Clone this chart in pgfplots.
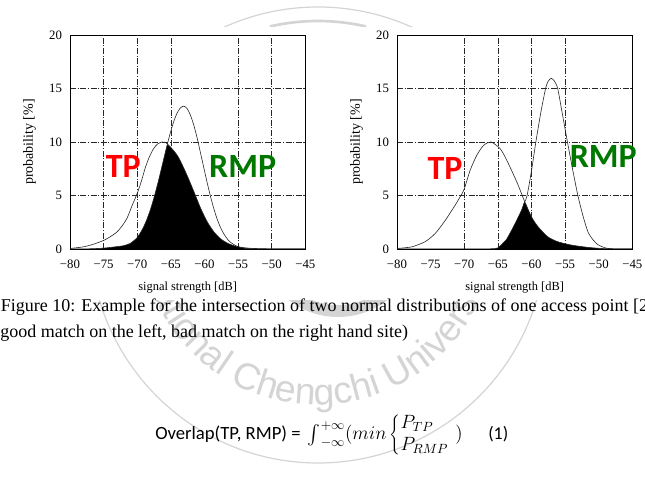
\documentclass[border=0pt]{standalone}
\usepackage{fontspec}
\setmainfont{Liberation Serif}
\newfontfamily\calibri{Carlito}
\newfontfamily\arialfont{Liberation Sans}
\usepackage{graphicx}
\usepackage{pgfplots}
\usepackage{pgfplotstable}
\usetikzlibrary{decorations.text}
\pgfplotsset{compat=1.18}

% ---- left panel: good match ----
\pgfplotstableread{
x y
-80 0.05
-78 0.2
-76.5 0.45
-75 0.8
-74 1.15
-73 1.6
-72.2 2.2
-71.5 2.9
-70.8 4.0
-70 5.2
-69.4 6.3
-68.8 7.6
-68.2 8.6
-67.6 9.35
-67 9.8
-66.35 10.0
-65.85 9.98
-65.4 9.75
-64.8 9.35
-64.1 8.8
-63.6 8.25
-62.6 6.9
-61.6 5.4
-60.6 3.85
-59.6 2.55
-58.6 1.6
-57.6 0.95
-56.6 0.55
-55.6 0.3
-54.6 0.16
-53 0.06
-50 0.01
-45 0
}\tpL
\pgfplotstableread{
x y
-80 0
-77 0.02
-75 0.08
-73.3 0.2
-72.1 0.3
-71.1 0.5
-70.1 1.0
-69.6 1.44
-69.1 2.0
-68.6 2.71
-68.1 3.57
-67.6 4.59
-67.1 5.75
-66.6 7.0
-66.1 8.31
-65.6 9.6
-65.1 10.81
-64.6 11.86
-64.1 12.67
-63.6 13.18
-63.1 13.35
-62.6 13.14
-62.1 12.53
-61.6 11.6
-61.1 10.4
-60.6 9.0
-60.1 7.6
-59.6 6.2
-59.1 4.9
-58.6 3.75
-58.1 2.77
-57.6 1.99
-57.1 1.39
-56.6 0.94
-56.1 0.61
-55.1 0.24
-54.1 0.08
-53.1 0.03
-50 0
-45 0
}\rmpL
\pgfplotstableread{
x y
-80 0
-77 0.02
-75 0.08
-73.3 0.2
-72.1 0.3
-71.1 0.5
-70.1 1.0
-69.6 1.44
-69.1 2.0
-68.6 2.71
-68.1 3.57
-67.6 4.59
-67.1 5.75
-66.6 7.0
-66.1 8.31
-65.6 9.6
-65.45 9.74
-64.8 9.35
-64.1 8.8
-63.6 8.25
-62.6 6.9
-61.6 5.4
-60.6 3.85
-59.6 2.55
-58.6 1.6
-57.6 0.95
-56.6 0.55
-55.6 0.3
-55.1 0.22
-54.1 0.08
-53.1 0.03
-50 0
-45 0
}\ovL

% ---- right panel: bad match ----
\pgfplotstableread{
x y
-80 0.05
-77.8 0.2
-75.8 0.69
-74.3 1.46
-72.8 2.7
-71.35 4.1
-70.5 5.0
-70 5.6
-69.1 7.4
-68.1 8.8
-67.1 9.7
-66 10.0
-64.7 9.4
-64 8.7
-63 7.4
-62 6.0
-61 4.4
-60 3.0
-59.05 2.1
-57.6 1.15
-56.1 0.68
-54.1 0.37
-51.6 0.15
-49 0.03
-45 0
}\tpR
\pgfplotstableread{
x y
-80 0
-68 0
-66 0.02
-65 0.1
-64 0.7
-63.7 0.9
-62.5 2.3
-61.5 3.6
-61 4.4
-60.65 5.0
-60 7.3
-59.35 10.0
-58.6 12.8
-57.9 15.0
-57.5 15.7
-57.05 15.95
-56.6 15.7
-56.1 15.0
-55.4 12.6
-54.65 10.0
-53.9 7.5
-53.1 5.0
-52.3 3.0
-51.6 1.6
-50.9 0.9
-50.1 0.4
-49 0.1
-48 0.02
-45 0
}\rmpR
\pgfplotstableread{
x y
-80 0
-68 0
-66 0.02
-65 0.1
-64 0.7
-63.7 0.9
-62.5 2.3
-61.5 3.6
-61 4.4
-60 3.0
-59.05 2.1
-57.6 1.15
-56.1 0.68
-54.1 0.37
-51.6 0.15
-49 0.03
-45 0
}\ovR

\definecolor{rmpgreen}{RGB}{0,120,0}
\colorlet{seal}{black!17}

\pgfplotsset{
  densplot/.style={
    width=176.5pt, height=160.5pt, scale only axis,
    xmin=-80, xmax=-45, ymin=0, ymax=20,
    xtick={-80,-75,...,-45},
    xticklabels={−80,−75,−70,−65,−60,−55,−50,−45},
    ytick={0,5,10,15,20},
    major tick length=0pt,
    axis line style={line width=0.6pt},
    ymajorgrids,
    grid style={black!85, line width=0.45pt, dash pattern=on 4.5pt off 1.2pt on 0.8pt off 1.2pt},
    extra x tick labels={},
    extra x tick style={grid=major},
    tick label style={font=\fontsize{9.6}{10}\selectfont},
    xticklabel style={yshift=-5pt},
    yticklabel style={xshift=-2.5pt},
    /pgf/number format/assume math mode=true,
    xlabel={signal strength [dB]},
    ylabel={probability [\%]},
    every axis x label/.style={at={(axis description cs:0.5,-0.182)}, anchor=center, font=\fontsize{9.3}{10}\selectfont},
    every axis y label/.style={at={(axis description cs:-0.172,0.5)}, anchor=center, rotate=90, font=\fontsize{10.5}{11}\selectfont},
  },
  curve/.style={black!85, line width=0.45pt, smooth, tension=0.4},
  overlap/.style={fill=black, draw=none, smooth, tension=0.4},
}

\begin{document}
\begin{tikzpicture}[x=0.75pt, y=0.75pt]
\path[use as bounding box] (0,0) rectangle (645,499);
\clip (0,0) rectangle (645,499);

% university seal printed behind the page content
\begin{scope}
  \draw[seal, line width=0.9pt] (318,264) circle[radius=228];
  \draw[seal, line width=2pt] (318,264) ++(77:214) arc[start angle=77, end angle=103, radius=214];
  \draw[seal, line width=9pt] (338,262) circle[radius=74];
  \path[decorate, decoration={text along path, text align=center,
      text color=seal,
      text={|\arialfont\fontsize{28}{28}\selectfont|National Chengchi University}}]
    (318,272) ++(193:178) arc[start angle=193, end angle=347, radius=178];
\end{scope}
% the figure panels sit on white
\fill[white] (14,199) rectangle (645,472);

\begin{axis}[densplot, at={(52.5pt,187.5pt)}, anchor=south west,
  extra x ticks={-75,-70,-65,-55,-50}]
  \addplot[overlap] table {\ovL} \closedcycle;
  \addplot[curve] table {\tpL};
  \addplot[curve] table {\rmpL};
\end{axis}

\begin{axis}[densplot, at={(297.75pt,187.5pt)}, anchor=south west,
  extra x ticks={-70,-65,-60,-55}]
  \addplot[overlap] table {\ovR} \closedcycle;
  \addplot[curve] table {\tpR};
  \addplot[curve] table {\rmpR};
\end{axis}

% curve names
\begin{scope}[every node/.style={anchor=base, inner sep=0pt, font=\calibri\bfseries\fontsize{25.5}{26}\selectfont}]
  \node[text=red] at (123.3,321.3) {TP};
  \node[text=rmpgreen] at (242.7,321.3) {RMP};
  \node[text=red] at (445,319.7) {TP};
  \node[text=rmpgreen] at (603.3,331.3) {RMP};
\end{scope}

% caption
\begin{scope}[every node/.style={anchor=base west, inner sep=0pt, font=\fontsize{13.5}{16}\selectfont}]
  \node at (0.5,187) {Figure 10: Example for the intersection of two normal distributions of one access point [2};
  \node at (-6,161) {(good match on the left, bad match on the right hand site)};
\end{scope}

% overlap formula
\node[anchor=base west, inner sep=0pt, font=\fontsize{14}{16}\selectfont] at (155,59)
  {\calibri Overlap(TP, RMP) = \,$\mathop{\vcenter{\hbox{\scalebox{1.45}{$\int$}}}}\nolimits_{-\infty}^{+\infty}(min\left\{\begin{array}{@{}l@{}}P_{TP}\\P_{RMP}\end{array}\right.\;)$};
\node[anchor=base west, inner sep=0pt, font=\calibri\fontsize{13.5}{16}\selectfont] at (488,59) {(1)};
\end{tikzpicture}
\end{document}
